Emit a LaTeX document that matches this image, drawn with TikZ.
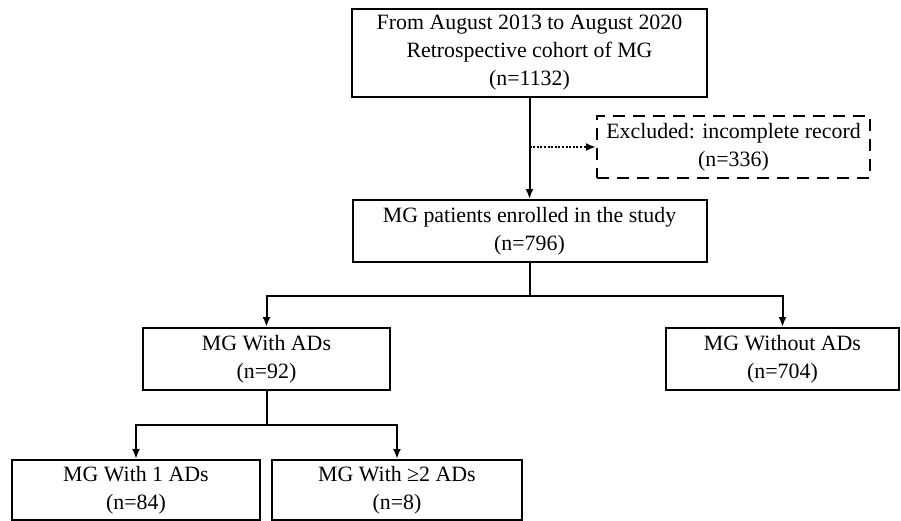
\documentclass[tikz,border=0pt]{standalone}
\usepackage{fontspec}
\setmainfont{Liberation Serif}
\usepackage{tikz}
\usetikzlibrary{arrows.meta}

\begin{document}
\begin{tikzpicture}[
		x=0.75pt, y=-0.75pt,
		box/.style={draw, line width=1.5pt, inner sep=0pt, align=center,
			font=\fontsize{16.4}{21}\selectfont, minimum height=46.5pt},
		dashbox/.style={box, dash pattern=on 9pt off 6pt},
		arr/.style={line width=1.5pt, -{Latex[length=7.5pt,width=6pt]}},
		dotarr/.style={arr, dash pattern=on 1.5pt off 1.2pt}
	]
	\useasboundingbox (0,0) rectangle (901,521);
	\node[box, minimum width=266.25pt, minimum height=66pt] (cohort) at (529.5,53)
		{From August 2013 to August 2020\\Retrospective cohort of MG\\(n=1132)};
	\node[dashbox, minimum width=204.75pt] (excl) at (733.5,147)
		{Excluded: incomplete record\\(n=336)};
	\node[box, minimum width=265.5pt] (enrolled) at (529.5,231)
		{MG patients enrolled in the study\\(n=796)};
	\node[box, minimum width=185.25pt] (withad) at (266.5,359)
		{MG With ADs\\(n=92)};
	\node[box, minimum width=174.75pt] (without) at (782.5,359)
		{MG Without ADs\\(n=704)};
	\node[box, minimum width=186pt, minimum height=45pt] (one) at (136,490)
		{MG With 1 ADs\\(n=84)};
	\node[box, minimum width=187.5pt, minimum height=45pt] (two) at (397,490)
		{MG With ≥2 ADs\\(n=8)};

	\draw[arr] (cohort.south) -- (enrolled.north);
	\draw[dotarr] (cohort.south |- excl.west) -- (excl.west);
	\draw[arr] (enrolled.south) -- ++(0,33) -| (withad.north);
	\draw[arr] (enrolled.south) -- ++(0,33) -| (without.north);
	\draw[arr] (withad.south) -- ++(0,34) -| (one.north);
	\draw[arr] (withad.south) -- ++(0,34) -| (two.north);
\end{tikzpicture}
\end{document}
